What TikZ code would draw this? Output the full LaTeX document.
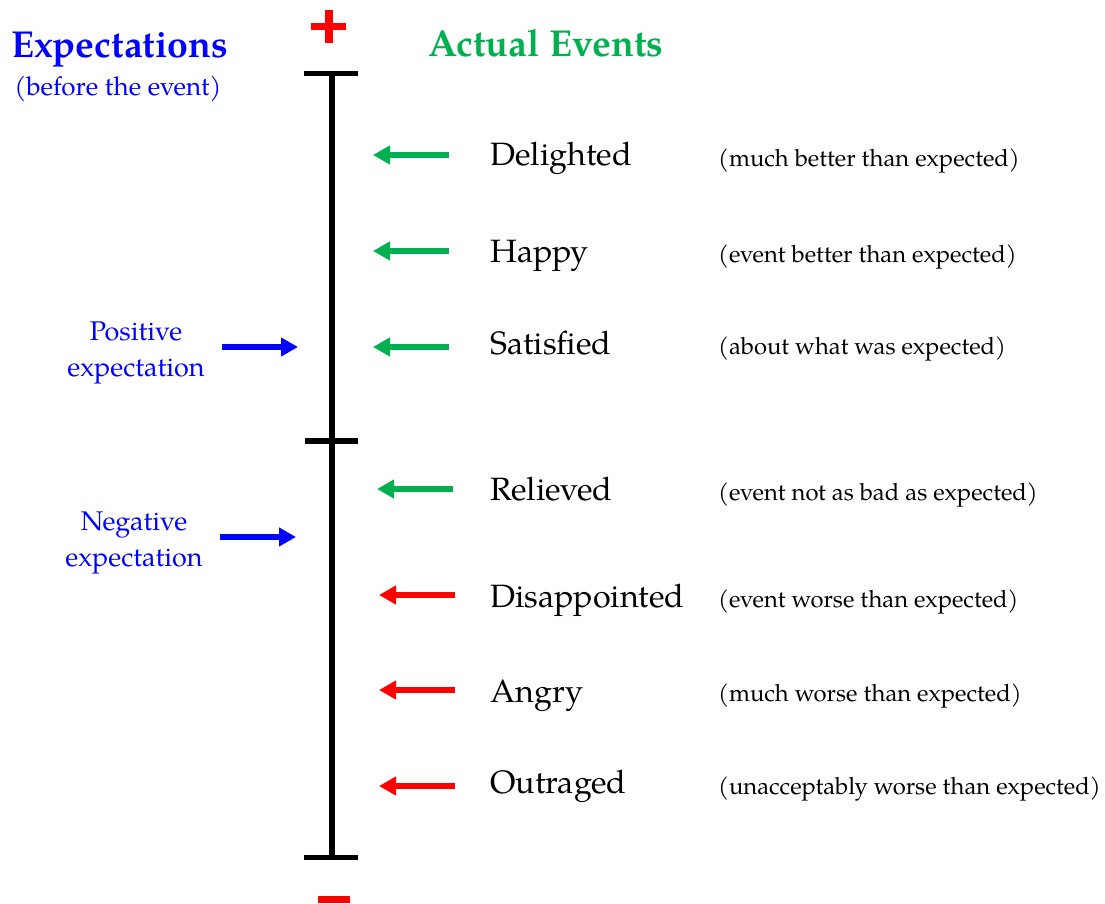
\documentclass[tikz,border=0pt]{standalone}
\usepackage{fontspec}
\setmainfont{TeX Gyre Pagella}
\usetikzlibrary{arrows.meta}
\definecolor{myblue}{RGB}{0,0,255}
\definecolor{mygreen}{RGB}{0,176,80}
\definecolor{myred}{RGB}{255,0,0}
\begin{document}
\begin{tikzpicture}[x=1pt,y=-1pt,
  arr/.style={line width=6pt,-{Triangle[length=17pt,width=18pt]}},
  word/.style={anchor=base west,inner sep=0pt,font=\fontsize{32.3}{38}\selectfont},
  desc/.style={anchor=base west,inner sep=0pt,font=\fontsize{23.8}{28}\selectfont},
  expect/.style={align=center,text=myblue,inner sep=0pt,font=\fontsize{27}{36}\selectfont},
  title/.style={anchor=base west,inner sep=0pt,font=\fontsize{37.5}{42}\selectfont\bfseries},
  scaleline/.style={line width=5.5pt}]
\useasboundingbox (0,0) rectangle (1105,904);
% titles
\node[title,text=myblue] (exp) at (11,57.5) {Expectations};
\node[anchor=base,inner sep=0pt,text=myblue,font=\fontsize{26}{30}\selectfont] (before) at (118,96) {(before the event)};
\node[title,text=mygreen] (act) at (428,56.5) {Actual Events};
% plus and minus
\fill[myred] (311,23.5) rectangle (346,30.5);
\fill[myred] (324.5,10) rectangle (332.5,43);
\fill[myred] (318,896) rectangle (350,903);
% scale
\coordinate (top) at (332,73.5);
\coordinate (mid) at (332,441);
\coordinate (bot) at (332,857.5);
\draw[scaleline] (top) -- (bot);
\draw[scaleline] ([xshift=-28pt]top) -- ([xshift=26pt]top);
\draw[scaleline] ([xshift=-27pt]mid) -- ([xshift=26pt]mid);
\draw[scaleline] ([xshift=-28pt]bot) -- ([xshift=26pt]bot);
% words
\node[word] (w1) at (490,166) {Delighted};
\node[word] (w2) at (490,262) {Happy};
\node[word] (w3) at (490,354) {Satisfied};
\node[word] (w4) at (490,500) {Relieved};
\node[word] (w5) at (490,607) {Disappointed};
\node[word] (w6) at (490,702) {Angry};
\node[word] (w7) at (490,793) {Outraged};
% descriptions
\node[desc] (d1) at (718,166.5) {(much better than expected)};
\node[desc] (d2) at (718,262.5) {(event better than expected)};
\node[desc] (d3) at (718,354.5) {(about what was expected)};
\node[desc] (d4) at (718,500.5) {(event not as bad as expected)};
\node[desc] (d5) at (718,607.5) {(event worse than expected)};
\node[desc] (d6) at (718,701.5) {(much worse than expected)};
\node[desc] (d7) at (718,794.5) {(unacceptably worse than expected)};
% expectations
\node[expect] (pos) at (136,353) {Positive\\expectation};
\node[expect] (neg) at (134,543) {Negative\\expectation};
% arrow coordinates
\coordinate (a1s) at (449,155); \coordinate (a1e) at (373,155);
\coordinate (a2s) at (449,251); \coordinate (a2e) at (373,251);
\coordinate (a3s) at (449,347); \coordinate (a3e) at (373,347);
\coordinate (a4s) at (453,489); \coordinate (a4e) at (377,489);
\coordinate (a5s) at (455,595); \coordinate (a5e) at (379,595);
\coordinate (a6s) at (455,690); \coordinate (a6e) at (379,690);
\coordinate (a7s) at (455,786); \coordinate (a7e) at (379,786);
\coordinate (p1s) at (222,347); \coordinate (p1e) at (298,347);
\coordinate (n1s) at (220,537); \coordinate (n1e) at (296,537);
\draw[arr,mygreen] (a1s) -- (a1e);
\draw[arr,mygreen] (a2s) -- (a2e);
\draw[arr,mygreen] (a3s) -- (a3e);
\draw[arr,mygreen] (a4s) -- (a4e);
\draw[arr,myred] (a5s) -- (a5e);
\draw[arr,myred] (a6s) -- (a6e);
\draw[arr,myred] (a7s) -- (a7e);
\draw[arr,myblue] (p1s) -- (p1e);
\draw[arr,myblue] (n1s) -- (n1e);
\end{tikzpicture}
\end{document}
